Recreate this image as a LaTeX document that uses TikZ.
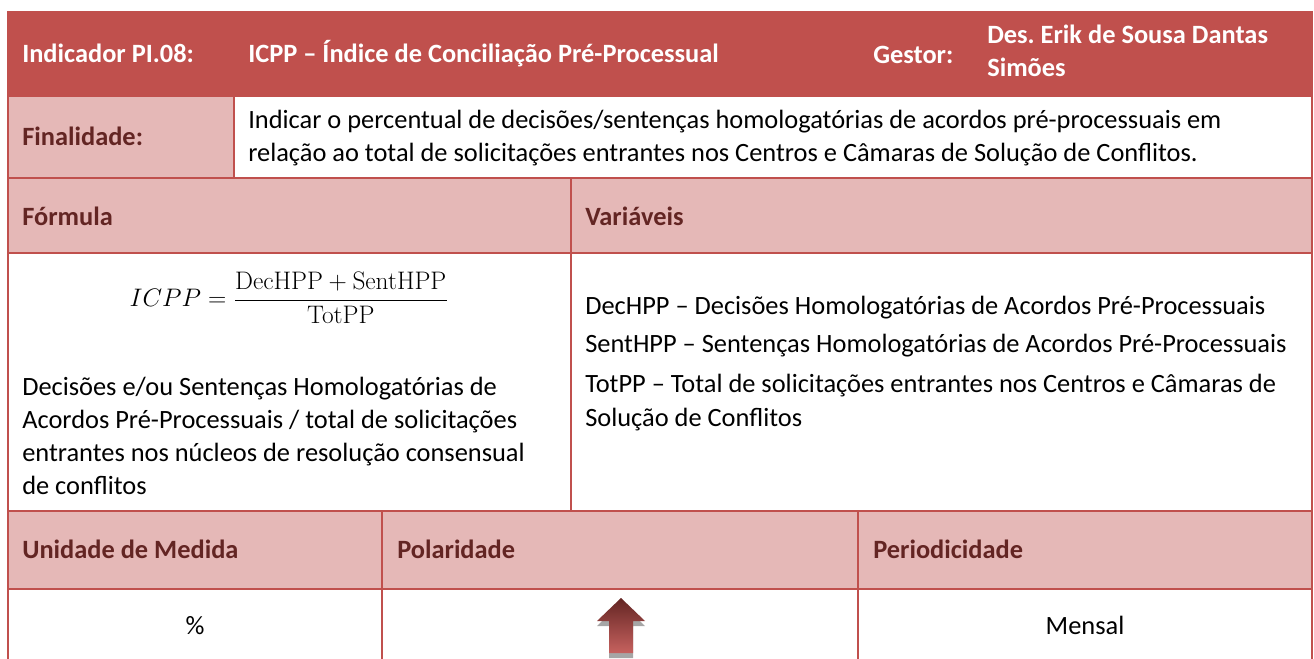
\documentclass[tikz,border=0pt]{standalone}
\usepackage[no-math]{fontspec}
\setmainfont{Carlito}
\frenchspacing
\definecolor{hdrred}{HTML}{C0504D}
\definecolor{cellpink}{HTML}{E5B8B7}
\definecolor{lbldark}{HTML}{632523}
\tikzset{
  cellline/.style={draw=hdrred, line width=1.5pt},
  hdrtext/.style={anchor=base west, inner sep=0pt, align=left, text=white,
    font=\fontsize{19.8}{24.75}\selectfont\bfseries},
  lbltext/.style={anchor=base west, inner sep=0pt, text=lbldark,
    font=\fontsize{19.8}{24.75}\selectfont\bfseries},
  bodytext/.style={anchor=base west, inner sep=0pt, align=left,
    font=\fontsize{19.8}{24.75}\selectfont},
}
\begin{document}
\begin{tikzpicture}[x=0.75pt,y=-0.75pt]
  \useasboundingbox (0,0) rectangle (1314,659);

  % cell fills
  \fill[hdrred] (8,11) rectangle (1312,96);
  \fill[cellpink] (8,96) rectangle (234,178);
  \fill[cellpink] (8,178) rectangle (1312,253);
  \fill[cellpink] (8,511) rectangle (1312,589);

  % grid
  \draw[cellline] (8,11) -- (8,659);
  \draw[cellline] (1312,11) -- (1312,659);
  \foreach \yy in {96,178,253,511,589}
    \draw[cellline] (8,\yy) -- (1312,\yy);
  \draw[cellline] (234,96) -- (234,178);
  \draw[cellline] (571,178) -- (571,511);
  \draw[cellline] (382,511) -- (382,659);
  \draw[cellline] (858,511) -- (858,659);

  % header (multi-line nodes sit on their last baseline)
  \node[hdrtext] (ind) at (22,63) {Indicador PI.08:};
  \node[hdrtext] (nome) at (248,63) {ICPP – Índice de Conciliação Pré-Processual};
  \node[hdrtext] (gest) at (873,64) {Gestor:};
  \node[hdrtext] (resp) at (987,77) {Des. Erik de Sousa Dantas\\Simões};

  % finalidade
  \node[lbltext] (fin) at (22,146) {Finalidade:};
  \node[bodytext] (fintxt) at (248,162)
    {Indicar o percentual de decisões/sentenças homologatórias de acordos pré-processuais em\\
     relação ao total de solicitações entrantes nos Centros e Câmaras de Solução de Conflitos.};

  % formula / variaveis
  \node[lbltext] (form) at (22,226) {Fórmula};
  \node[lbltext] (vars) at (585,226) {Variáveis};
  \node[inner sep=0pt, scale=1.1, transform shape,
    font=\fontsize{17.28}{24.75}\selectfont] (eq) at (289,298)
    {$\displaystyle ICPP = \frac{\mathrm{DecHPP}+\mathrm{SentHPP}}{\mathrm{TotPP}}$};
  \node[bodytext] (formtxt) at (22,494)
    {Decisões e/ou Sentenças Homologatórias de\\
     Acordos Pré-Processuais / total de solicitações\\
     entrantes nos núcleos de resolução consensual\\
     de conflitos};
  \node[bodytext] (dec) at (585,315) {DecHPP – Decisões Homologatórias de Acordos Pré-Processuais};
  \node[bodytext] (sent) at (585,353) {SentHPP – Sentenças Homologatórias de Acordos Pré-Processuais};
  \node[bodytext] (tot) at (585,426)
    {TotPP – Total de solicitações entrantes nos Centros e Câmaras de\\Solução de Conflitos};

  % unidade / polaridade / periodicidade
  \node[lbltext] (uni) at (22,558) {Unidade de Medida};
  \node[lbltext] (pol) at (397,558) {Polaridade};
  \node[lbltext] (per) at (873,558) {Periodicidade};
  \node[bodytext, anchor=base] (pct) at (195,634) {\%};
  \node[bodytext, anchor=base] (mensal) at (1085,634) {Mensal};

  % polaridade arrow
  \fill[black!35] (621,603) -- (645,626) -- (633,626) -- (633,658)
    -- (609,658) -- (609,626) -- (597,626) -- cycle;
  \shade[top color=lbldark, bottom color=hdrred!90] (621,598) -- (645,621)
    -- (633,621) -- (633,653) -- (609,653) -- (609,621) -- (597,621) -- cycle;
\end{tikzpicture}
\end{document}
